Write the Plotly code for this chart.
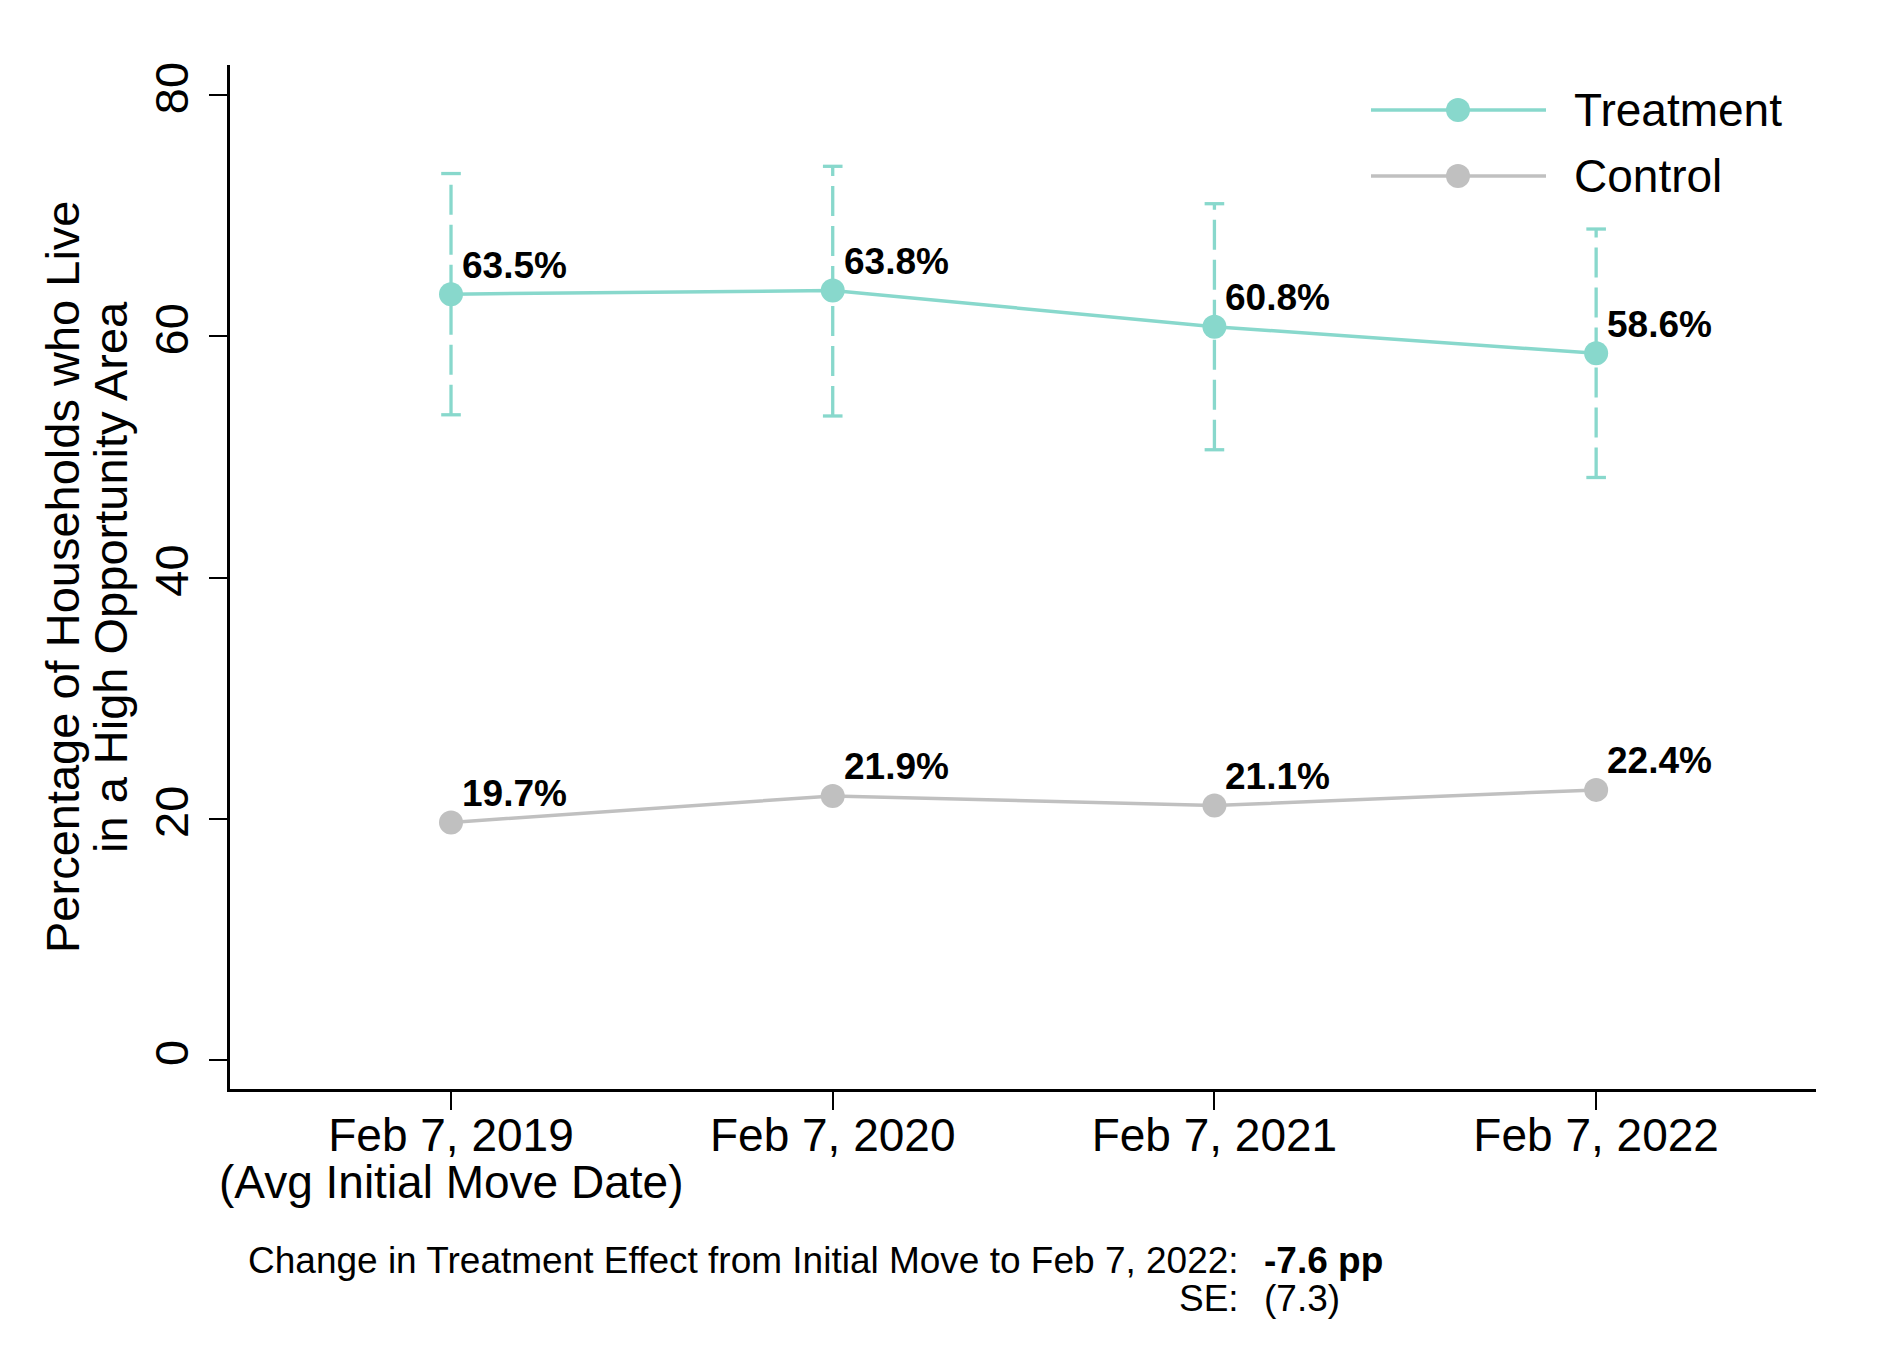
import plotly.graph_objects as go

# ---- data ----
dates = ["Feb 7, 2019", "Feb 7, 2020", "Feb 7, 2021", "Feb 7, 2022"]
treatment = [63.5, 63.8, 60.8, 58.6]
treatment_ci_low = [53.5, 53.4, 50.6, 48.3]
treatment_ci_high = [73.5, 74.1, 71.0, 68.9]
control = [19.7, 21.9, 21.1, 22.4]
y_ticks = [0, 20, 40, 60, 80]
treat_labels = [f"{v:.1f}%" for v in treatment]
ctrl_labels = [f"{v:.1f}%" for v in control]

TEAL = "#88D8CC"
GRAY = "#C0C0C0"
FONT = "Liberation Sans, Arial, sans-serif"

# page offset of the plotly div (default body margin)
OFF = 8
W, H = 1878 - OFF, 1350 - OFF
# plot area in page pixels
PX0, PX1, PY0, PY1 = 230, 1816, 65, 1089
L, T = PX0 - OFF, PY0 - OFF
R = OFF + W - PX1
B = OFF + H - PY1
PW, PH = PX1 - PX0, PY1 - PY0


def px_x(p):
    return (p - PX0) / PW


def px_y(p):
    return (PY1 - p) / PH


fig = go.Figure()

# dashed confidence intervals
for d, lo, hi in zip(dates, treatment_ci_low, treatment_ci_high):
    fig.add_trace(go.Scatter(
        x=[d, d], y=[lo, hi], mode="lines",
        line=dict(color=TEAL, width=3.3, dash="30px,10px"),
        showlegend=False, hoverinfo="skip"))
fig.add_trace(go.Scatter(
    x=dates + dates, y=treatment_ci_low + treatment_ci_high, mode="markers",
    marker=dict(symbol="line-ew", size=14, line=dict(color=TEAL, width=3.3)),
    showlegend=False, hoverinfo="skip"))

fig.add_trace(go.Scatter(
    x=dates, y=treatment, mode="lines+markers", name="Treatment",
    line=dict(color=TEAL, width=3.5), marker=dict(color=TEAL, size=24),
    showlegend=False))
fig.add_trace(go.Scatter(
    x=dates, y=control, mode="lines+markers", name="Control",
    line=dict(color=GRAY, width=3.5), marker=dict(color=GRAY, size=24),
    showlegend=False))

annotations = []
for d, v, t in zip(dates, treatment, treat_labels):
    annotations.append(dict(x=d, y=v, text=f"<b>{t}</b>", showarrow=False,
                            xanchor="left", yanchor="middle", xshift=9, yshift=29,
                            font=dict(size=37, color="black", family=FONT)))
for d, v, t in zip(dates, control, ctrl_labels):
    annotations.append(dict(x=d, y=v, text=f"<b>{t}</b>", showarrow=False,
                            xanchor="left", yanchor="middle", xshift=9, yshift=29,
                            font=dict(size=37, color="black", family=FONT)))

# second line of first tick label
annotations.append(dict(x=dates[0], xref="x", y=px_y(1182), yref="paper",
                        text="(Avg Initial Move Date)", showarrow=False,
                        xanchor="center", yanchor="middle",
                        font=dict(size=46, color="black", family=FONT)))

# y-axis title (two tight lines)
annotations.append(dict(x=px_x(62), y=px_y(577), xref="paper", yref="paper",
                        text="Percentage of Households who Live", textangle=-90,
                        showarrow=False, xanchor="center", yanchor="middle",
                        font=dict(size=47, color="black", family=FONT)))
annotations.append(dict(x=px_x(110), y=px_y(577), xref="paper", yref="paper",
                        text="in a High Opportunity Area", textangle=-90,
                        showarrow=False, xanchor="center", yanchor="middle",
                        font=dict(size=47, color="black", family=FONT)))

# bottom note
note_font = dict(size=37, color="black", family=FONT)
annotations += [
    dict(x=px_x(1241), y=px_y(1260), xref="paper", yref="paper",
         text="Change in Treatment Effect from Initial Move to Feb 7, 2022:",
         showarrow=False, xanchor="right", yanchor="middle", font=note_font),
    dict(x=px_x(1262), y=px_y(1260), xref="paper", yref="paper",
         text="<b>-7.6 pp</b>", showarrow=False, xanchor="left", yanchor="middle",
         font=note_font),
    dict(x=px_x(1241), y=px_y(1298), xref="paper", yref="paper",
         text="SE:", showarrow=False, xanchor="right", yanchor="middle", font=note_font),
    dict(x=px_x(1262), y=px_y(1298), xref="paper", yref="paper",
         text="(7.3)", showarrow=False, xanchor="left", yanchor="middle", font=note_font),
]

# custom legend
shapes = []
legend_items = [("Treatment", TEAL, 110), ("Control", GRAY, 176)]
for name, col, ypx in legend_items:
    shapes.append(dict(type="line", xref="paper", yref="paper",
                       x0=px_x(1371), x1=px_x(1546), y0=px_y(ypx), y1=px_y(ypx),
                       line=dict(color=col, width=3.5)))
    shapes.append(dict(type="circle", xref="paper", yref="paper",
                       xsizemode="pixel", ysizemode="pixel",
                       xanchor=px_x(1458), yanchor=px_y(ypx),
                       x0=-12, x1=12, y0=-12, y1=12,
                       fillcolor=col, line=dict(color=col, width=0)))
    annotations.append(dict(x=px_x(1572), y=px_y(ypx), xref="paper", yref="paper",
                            text=name, showarrow=False, xanchor="left", yanchor="middle",
                            font=dict(size=46, color="black", family=FONT)))

fig.update_layout(
    width=W, height=H,
    margin=dict(l=L, r=R, t=T, b=B, pad=0),
    paper_bgcolor="white", plot_bgcolor="white",
    font=dict(family=FONT, color="black"),
    showlegend=False,
    annotations=annotations,
    shapes=shapes,
    xaxis=dict(type="category", categoryorder="array", categoryarray=dates,
               range=[-0.579, 3.576], showgrid=False, zeroline=False,
               showline=True, linecolor="black", linewidth=2.5,
               ticks="outside", ticklen=18, tickwidth=2, tickcolor="black",
               ticklabelstandoff=-14,
               tickfont=dict(size=46, family=FONT, color="black")),
    yaxis=dict(range=[-2.4, 82.5], tickvals=y_ticks, showgrid=False, zeroline=False,
               showline=True, linecolor="black", linewidth=2.5,
               ticks="outside", ticklen=18, tickwidth=2, tickcolor="black",
               tickangle=-90, ticklabelstandoff=2,
               tickfont=dict(size=47, family=FONT, color="black")),
)

fig.write_html("out.html")
